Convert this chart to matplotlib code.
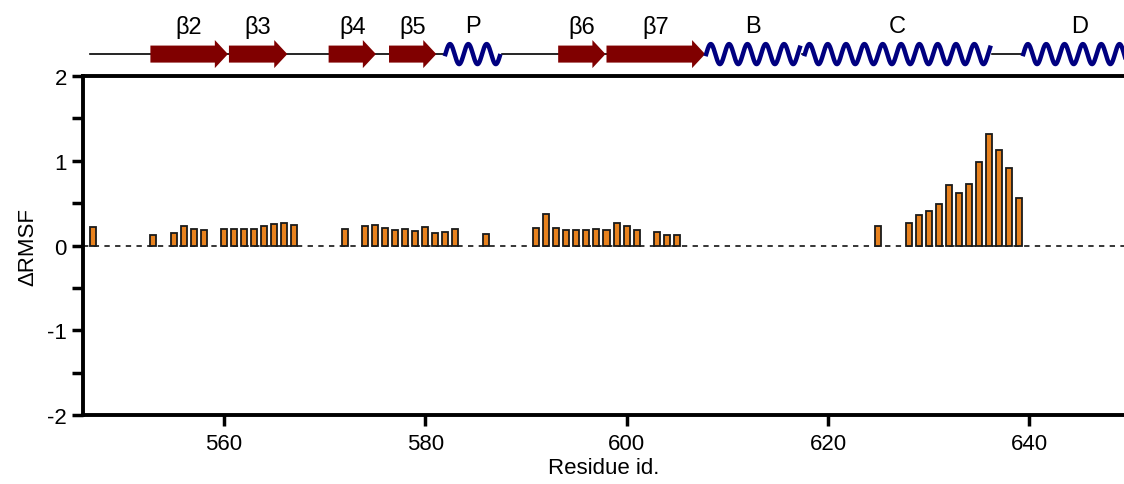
import numpy as np
import matplotlib
matplotlib.use("Agg")
import matplotlib.pyplot as plt
from matplotlib.patches import FancyArrow

plt.rcParams['font.family'] = ['Liberation Sans', 'DejaVu Sans']
plt.rcParams['axes.unicode_minus'] = False

# delta RMSF per residue (only residues that have a bar)
residues = [547, 553, 555, 556, 557, 558, 560, 561, 562, 563, 564, 565, 566, 567,
            572, 574, 575, 576, 577, 578, 579, 580, 581, 582, 583, 586,
            591, 592, 593, 594, 595, 596, 597, 598, 599, 600, 601, 603, 604, 605,
            625, 628, 629, 630, 631, 632, 633, 634, 635, 636, 637, 638, 639]
d_rmsf = [0.22, 0.12, 0.15, 0.23, 0.20, 0.18, 0.20, 0.20, 0.20, 0.20, 0.23, 0.25, 0.27, 0.24,
          0.20, 0.23, 0.24, 0.21, 0.19, 0.20, 0.17, 0.22, 0.15, 0.16, 0.20, 0.14,
          0.21, 0.37, 0.21, 0.19, 0.18, 0.18, 0.20, 0.19, 0.27, 0.23, 0.18, 0.16, 0.13, 0.12,
          0.23, 0.27, 0.36, 0.41, 0.49, 0.72, 0.62, 0.73, 0.99, 1.32, 1.13, 0.92, 0.56]

# secondary structure (start, end, label)
strands = [(552.7, 560.4, "β2"), (560.5, 566.3, "β3"), (570.4, 575.1, "β4"),
           (576.4, 581.1, "β5"), (593.2, 597.9, "β6"), (598.0, 607.8, "β7")]
helices = [(582.0, 587.4, "P"), (607.9, 617.2, "B"), (617.7, 636.1, "C"),
           (639.4, 650.5, "D")]
coil_start = 546.7
x_min, x_max = 546, 649.4

fig = plt.figure(figsize=(11.24, 4.85), dpi=100)
ax = fig.add_axes([0.0738, 0.142, 1 - 0.0738, 0.699])

ax.axhline(0, color='black', lw=1.1, dashes=(3.5, 3.5), zorder=1)
ax.bar(residues, d_rmsf, width=0.6, color='#e8821e', edgecolor='#1a1a1a',
       linewidth=1.3, zorder=2)

ax.set_xlim(x_min, x_max)
ax.set_ylim(-2, 2)
ax.set_xticks([560, 580, 600, 620, 640])
ax.set_yticks([-2, -1, 0, 1, 2])
ax.set_yticks([-1.5, -0.5, 0.5, 1.5], minor=True)
ax.tick_params(axis='both', which='both', direction='out', width=2.5, labelsize=16)
ax.tick_params(axis='both', which='major', length=8)
ax.tick_params(axis='y', which='minor', length=8)
ax.tick_params(axis='x', pad=5)
for side in ['left', 'bottom', 'top']:
    ax.spines[side].set_linewidth(2.8)
ax.spines['right'].set_visible(False)
ax.set_xlabel("Residue id.", fontsize=16, labelpad=2)
ax.set_ylabel("ΔRMSF", fontsize=16, labelpad=6)

# secondary structure cartoon above
ss = fig.add_axes([0.0738, 0.841, 1 - 0.0738, 0.159])
ss.set_xlim(x_min, x_max)
ss.set_ylim(0, 77)
ss.axis('off')
y0 = 22
ss.plot([coil_start, x_max + 1], [y0, y0], color='black', lw=1.2, zorder=1,
        clip_on=False)
for s, e, lab in strands:
    hl = 1.3
    ss.add_patch(FancyArrow(s, y0, e - s - hl, 0, width=17, head_width=28,
                            head_length=hl, length_includes_head=False,
                            color='#800000', lw=0, zorder=2))
    ss.text((s + e) / 2, 50, lab, ha='center', va='center', fontsize=17)
for s, e, lab in helices:
    hx = np.linspace(s, e, 400)
    hy = y0 + 10 * np.sin(2 * np.pi * (hx - s) / 1.82)
    ss.plot(hx, hy, color='#000080', lw=3.2, zorder=3, clip_on=False)
    ss.text((s + e) / 2, 50, lab, ha='center', va='center', fontsize=17)
    ss.add_patch(plt.Rectangle((s, y0 - 12), e - s, 24, color='white', zorder=2))

fig.savefig("out.png", dpi=100)
